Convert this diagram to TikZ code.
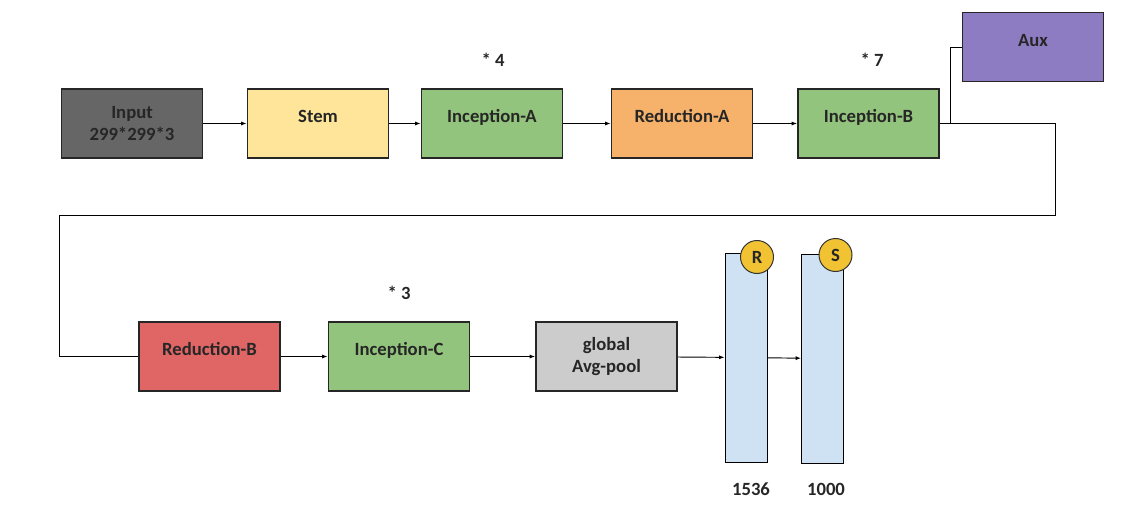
\documentclass[tikz,border=0pt]{standalone}
\usepackage{fontspec}
\setmainfont{Carlito}
\usetikzlibrary{arrows.meta}
\definecolor{inputc}{HTML}{666666}
\definecolor{stemc}{HTML}{FFE599}
\definecolor{incc}{HTML}{93C47D}
\definecolor{redac}{HTML}{F6B26B}
\definecolor{auxc}{HTML}{8E7CC3}
\definecolor{redbc}{HTML}{E06666}
\definecolor{poolc}{HTML}{CCCCCC}
\definecolor{barc}{HTML}{CFE2F3}
\definecolor{dotc}{HTML}{F1C232}

\begin{document}
\begin{tikzpicture}[x=0.75pt, y=-0.75pt,
    every node/.style={font=\bfseries\fontsize{14}{16.5}\selectfont, text=black!85},
    block/.style={draw=black!85, line width=1.4pt, minimum width=105.75pt, minimum height=51.75pt, inner sep=0pt, align=center},
    lift/.style={text height=9pt, text depth=9.8pt},
    bar/.style={draw=black, line width=0.75pt, fill=barc, minimum width=31.5pt, minimum height=156.75pt, inner sep=0pt},
    dot/.style={circle, draw=black!80, line width=0.75pt, fill=dotc, minimum size=24.75pt, inner sep=0pt},
    arr/.style={-{Latex[length=4pt, width=3pt]}, line width=0.7pt},
    wire/.style={line width=0.7pt},
    ]
  \useasboundingbox (0,0) rectangle (1142,524);
  \node[block, fill=inputc] (inp) at (132,123.5) {Input\\299*299*3};
  \node[block, lift, fill=stemc] (stem) at (318,123.5) {Stem};
  \node[block, lift, fill=incc] (incA) at (492,123.5) {Inception-A};
  \node[block, lift, fill=redac] (redA) at (682,123.5) {Reduction-A};
  \node[block, lift, fill=incc] (incB) at (868.5,123.5) {Inception-B};
  \node[block, lift, fill=auxc] (aux) at (1033,47) {Aux};
  \node[block, lift, fill=redbc] (redB) at (209.5,356.5) {Reduction-B};
  \node[block, lift, fill=incc] (incC) at (399,356.5) {Inception-C};
  \node[block, fill=poolc] (pool) at (606.5,356.5) {global\\Avg-pool};
  \node[bar] (fcR) at (746,357.5) {};
  \node[bar] (fcS) at (822.5,358.5) {};
  \node[dot] (dotR) at (757,257) {R};
  \node[dot] (dotS) at (835.5,255) {S};
  \node (rep4) at (493,60) {* 4};
  \node (rep7) at (872,60) {* 7};
  \node (rep3) at (399,293) {* 3};
  \node (dimR) at (751,489) {1536};
  \node (dimS) at (826,489) {1000};
  \coordinate (turnA) at (1055,215);
  \coordinate (turnB) at (59,215);
  \draw[arr] (inp) -- (stem);
  \draw[arr] (stem) -- (incA);
  \draw[arr] (incA) -- (redA);
  \draw[arr] (redA) -- (incB);
  \draw[wire] (incB.east) -- ++(11,0) |- (aux.west);
  \draw[wire] (incB.east) -| (turnA) -- (turnB) |- (redB.west);
  \draw[arr] (redB) -- (incC);
  \draw[arr] (incC) -- (pool);
  \draw[arr] (pool) -- (fcR);
  \draw[arr] (fcR) -- (fcS);
\end{tikzpicture}
\end{document}
